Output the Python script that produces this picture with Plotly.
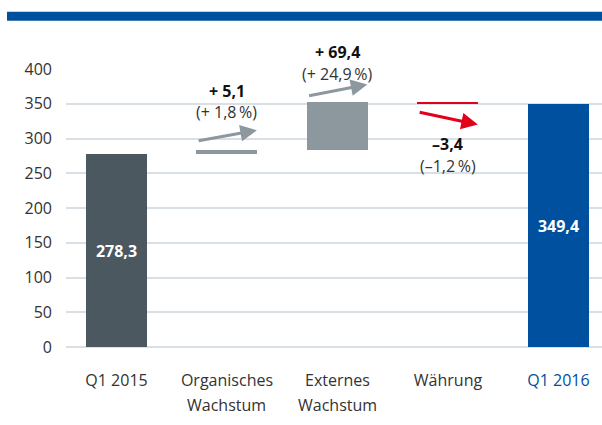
import plotly.graph_objects as go

# ---- data ----
categories = ["Q1 2015", "Organisches", "Externes", "Währung", "Q1 2016"]
second_lines = ["", "Wachstum", "Wachstum", "", ""]
changes = [278.3, 5.1, 69.4, -3.4, 349.4]
kinds = ["total", "delta", "delta", "delta", "total"]
change_labels = ["", "+ 5,1", "+ 69,4", "–3,4", ""]
pct_labels = ["", "(+ 1,8\u2009%)", "(+ 24,9\u2009%)", "(–1,2\u2009%)", ""]
y_ticks = [0, 50, 100, 150, 200, 250, 300, 350, 400]

# ---- styling ----
FONT = "Open Sans"
TXT = "#333333"
BLUE = "#0050a0"
colors = ["#4b585f", "#8c979e", "#8c979e", "#e3001b", BLUE]
arrow_colors = [None, "#8c979e", "#8c979e", "#e3001b", None]
GRID = "#d9e0e5"

# waterfall bases
bases, heights = [], []
level = 0.0
for v, k in zip(changes, kinds):
    if k == "total":
        bases.append(0.0)
        heights.append(v)
        level = v
    else:
        if v >= 0:
            bases.append(level)
            heights.append(v)
        else:
            bases.append(level + v)
            heights.append(-v)
        level += v

xs = list(range(len(categories)))
bar_text = [f"{v:.1f}".replace(".", ",") if k == "total" else "" for v, k in zip(changes, kinds)]

fig = go.Figure()
fig.add_trace(go.Bar(
    x=xs, y=heights, base=bases, width=0.552,
    marker=dict(color=colors, line=dict(width=0)),
    text=bar_text, textposition="inside", insidetextanchor="middle",
    textfont=dict(family=FONT, size=16, color="white", weight="bold"),
    hoverinfo="skip", cliponaxis=False,
))

PX = 0.6975  # pixels per unit
annotations = []
for i, (v, k) in enumerate(zip(changes, kinds)):
    if k != "delta":
        continue
    top = bases[i] + heights[i]
    bot = bases[i]
    if v >= 0:
        annotations.append(dict(x=i, y=top, xref="x", yref="y", text=f"<b>{change_labels[i]}</b>",
                                showarrow=False, yshift=(59 if i == 1 else 49.5),
                                font=dict(family=FONT, size=16, color="#111111")))
        annotations.append(dict(x=i, y=top, xref="x", yref="y", text=pct_labels[i],
                                showarrow=False, yshift=(38 if i == 1 else 27.5),
                                font=dict(family=FONT, size=16, color=TXT)))
        tail_off, tip_off = (9.1, 19.8) if i == 1 else (5.7, 17.4)
        annotations.append(dict(
            x=i + 0.27, y=top + tip_off / PX, ax=i - 0.27, ay=top + tail_off / PX,
            xref="x", yref="y", axref="x", ayref="y", text="", showarrow=True,
            arrowhead=2, arrowsize=1.1, arrowwidth=3, arrowcolor=arrow_colors[i], standoff=0))
    else:
        annotations.append(dict(x=i, y=bot, xref="x", yref="y", text=f"<b>{change_labels[i]}</b>",
                                showarrow=False, yshift=-40,
                                font=dict(family=FONT, size=16, color="#111111")))
        annotations.append(dict(x=i, y=bot, xref="x", yref="y", text=pct_labels[i],
                                showarrow=False, yshift=-61.5,
                                font=dict(family=FONT, size=16, color=TXT)))
        annotations.append(dict(
            x=i + 0.27, y=top - 32.8, ax=i - 0.27, ay=top - 14.7,
            xref="x", yref="y", axref="x", ayref="y", text="", showarrow=True,
            arrowhead=2, arrowsize=1.1, arrowwidth=3, arrowcolor=arrow_colors[i], standoff=0))

for i, s in enumerate(second_lines):
    if s:
        annotations.append(dict(x=i, y=(347.5 - 406) / 279, xref="x", yref="paper", text=s,
                                yanchor="middle", showarrow=False,
                                font=dict(family=FONT, size=16, color=TXT)))

tick_text = [c if i < len(categories) - 1 else f"<span style='color:{BLUE}'>{c}</span>"
             for i, c in enumerate(categories)]

fig.update_layout(
    width=602, height=425,
    margin=dict(l=66, r=0, t=68.5, b=77.5),
    paper_bgcolor="white", plot_bgcolor="white",
    showlegend=False, bargap=0,
    font=dict(family=FONT, size=16, color=TXT),
    xaxis=dict(range=[-0.457, 4.394], tickvals=xs, ticktext=tick_text, showgrid=False,
               zeroline=False, showline=False, ticks="", tickfont=dict(size=16, color=TXT),
               ticklabelstandoff=22),
    yaxis=dict(range=[0, 400], tickvals=y_ticks, showgrid=True, gridcolor=GRID, gridwidth=1.5,
               zeroline=True, zerolinecolor=GRID, zerolinewidth=1.5, showline=False, ticks="",
               tickfont=dict(size=16, color=TXT), ticklabelstandoff=13),
    annotations=annotations,
    shapes=[dict(type="rect", xref="paper", yref="paper",
                 x0=(7 - 66) / 536, x1=1.0, y0=(347.5 - 20) / 279, y1=(347.5 - 11) / 279,
                 fillcolor=BLUE, line=dict(width=0), layer="above")],
)

fig.write_html("out.html", config={"displayModeBar": False},
               post_script="document.body.style.margin='0';document.body.style.overflow='hidden';")
